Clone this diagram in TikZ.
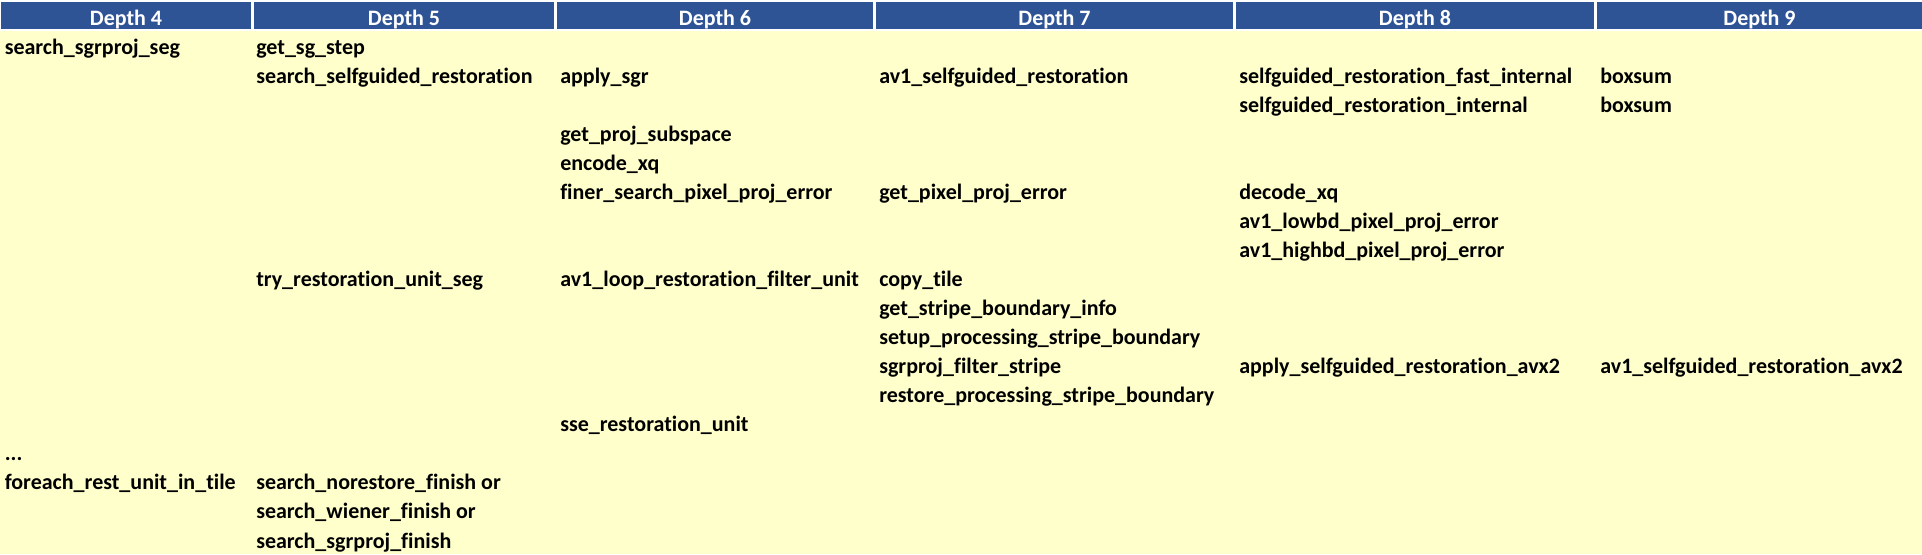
\documentclass[tikz,border=0pt]{standalone}
\usepackage{fontspec}
\setmainfont{Carlito}[Ligatures={NoCommon}]
\definecolor{hdrblue}{RGB}{47,84,150}
\definecolor{cellbg}{RGB}{255,255,204}
\begin{document}
\begin{tikzpicture}[x=0.75pt,y=-0.75pt,
  hdrtext/.style={text=white,font=\bfseries\fontsize{16.5}{18}\selectfont,anchor=base,inner sep=0pt},
  cell/.style={text=black,font=\bfseries\fontsize{16.5}{18}\selectfont,anchor=base west,inner sep=0pt}]
\useasboundingbox (0,0) rectangle (1922,554);
\fill[white] (0,0) rectangle (1922,554);
\fill[cellbg] (0,30.5) rectangle (1922,554);
\foreach \l/\r in {1/251,254/554,557/873,876/1233,1236/1594,1597/1922}
  \fill[hdrblue] (\l,2) rectangle (\r,29.3);
% headers
\node[hdrtext] (h4) at (126,25) {Depth 4};
\node[hdrtext] (h5) at (404,25) {Depth 5};
\node[hdrtext] (h6) at (715,25) {Depth 6};
\node[hdrtext] (h7) at (1054.5,25) {Depth 7};
\node[hdrtext] (h8) at (1415,25) {Depth 8};
\node[hdrtext] (h9) at (1759.5,25) {Depth 9};
% columns x
\def\xA{4.5}\def\xB{256}\def\xC{560}\def\xD{879}\def\xE{1239}\def\xF{1600}
\node[cell] (a1) at (\xA,{54+0*29.06}) {search\_sgrproj\_seg};
\node[cell] (b1) at (\xB,{54+0*29.06}) {get\_sg\_step};
\node[cell] (b2) at (\xB,{54+1*29.06}) {search\_selfguided\_restoration};
\node[cell] (c2) at (\xC,{54+1*29.06}) {apply\_sgr};
\node[cell] (d2) at (\xD,{54+1*29.06}) {av1\_selfguided\_restoration};
\node[cell] (e2) at (\xE,{54+1*29.06}) {selfguided\_restoration\_fast\_internal};
\node[cell] (f2) at (\xF,{54+1*29.06}) {boxsum};
\node[cell] (e3) at (\xE,{54+2*29.06}) {selfguided\_restoration\_internal};
\node[cell] (f3) at (\xF,{54+2*29.06}) {boxsum};
\node[cell] (c4) at (\xC,{54+3*29.06}) {get\_proj\_subspace};
\node[cell] (c5) at (\xC,{54+4*29.06}) {encode\_xq};
\node[cell] (c6) at (\xC,{54+5*29.06}) {finer\_search\_pixel\_proj\_error};
\node[cell] (d6) at (\xD,{54+5*29.06}) {get\_pixel\_proj\_error};
\node[cell] (e6) at (\xE,{54+5*29.06}) {decode\_xq};
\node[cell] (e7) at (\xE,{54+6*29.06}) {av1\_lowbd\_pixel\_proj\_error};
\node[cell] (e8) at (\xE,{54+7*29.06}) {av1\_highbd\_pixel\_proj\_error};
\node[cell] (b9) at (\xB,{54+8*29.06}) {try\_restoration\_unit\_seg};
\node[cell] (c9) at (\xC,{54+8*29.06}) {av1\_loop\_restoration\_filter\_unit};
\node[cell] (d9) at (\xD,{54+8*29.06}) {copy\_tile};
\node[cell] (d10) at (\xD,{54+9*29.06}) {get\_stripe\_boundary\_info};
\node[cell] (d11) at (\xD,{54+10*29.06}) {setup\_processing\_stripe\_boundary};
\node[cell] (d12) at (\xD,{54+11*29.06}) {sgrproj\_filter\_stripe};
\node[cell] (e12) at (\xE,{54+11*29.06}) {apply\_selfguided\_restoration\_avx2};
\node[cell] (f12) at (\xF,{54+11*29.06}) {av1\_selfguided\_restoration\_avx2};
\node[cell] (d13) at (\xD,{54+12*29.06}) {restore\_processing\_stripe\_boundary};
\node[cell] (c14) at (\xC,{54+13*29.06}) {sse\_restoration\_unit};
\node[cell] (a15) at (\xA,{54+14*29.06}) {...};
\node[cell] (a16) at (\xA,{54+15*29.06}) {foreach\_rest\_unit\_in\_tile};
\node[cell] (b16) at (\xB,{54+15*29.06}) {search\_norestore\_finish or};
\node[cell] (b17) at (\xB,{54+16*29.06}) {search\_wiener\_finish or};
\node[cell] (b18) at (\xB,{54+17*29.06}) {search\_sgrproj\_finish};
\end{tikzpicture}
\end{document}
